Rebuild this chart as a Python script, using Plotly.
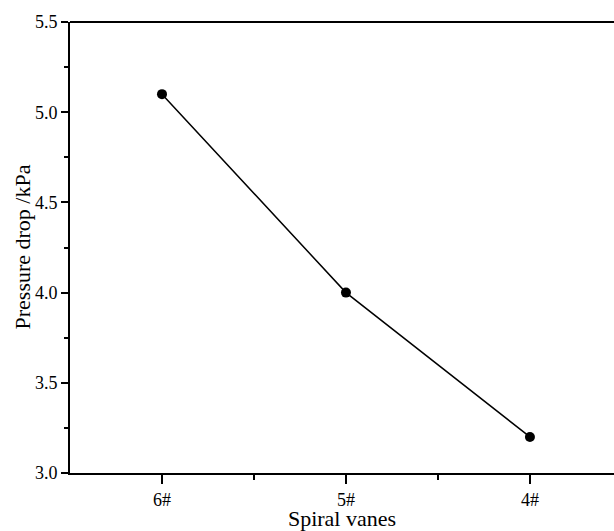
import plotly.graph_objects as go

categories = ["6#", "5#", "4#"]
pressure_drop = [5.1, 4.0, 3.2]
y_ticks = [3.0, 3.5, 4.0, 4.5, 5.0, 5.5]
y_tick_labels = ["3.0", "3.5", "4.0", "4.5", "5.0", "5.5"]

xpos = list(range(len(categories)))

fig = go.Figure()
fig.add_trace(go.Scatter(
    x=xpos, y=pressure_drop, mode="lines+markers",
    line=dict(color="black", width=1.5),
    marker=dict(color="black", size=10),
    showlegend=False,
))

font_family = "Times New Roman, Liberation Serif, serif"
fig.update_layout(
    width=614, height=531,
    margin=dict(l=70, r=0, t=22, b=58, autoexpand=False),
    paper_bgcolor="white", plot_bgcolor="white",
    font=dict(family=font_family, color="black"),
)
fig.update_xaxes(
    range=[-0.5, 2.457],
    tickvals=xpos, ticktext=categories,
    ticks="outside", ticklen=9, tickwidth=1.5, tickcolor="black",
    minor=dict(tickvals=[0.5, 1.5], ticks="outside", ticklen=5, tickwidth=1.5, tickcolor="black"),
    showline=True, linecolor="black", linewidth=2, mirror=False,
    showgrid=False, zeroline=False, automargin=False,
    tickfont=dict(size=18, family=font_family, color="black"),
    title=dict(text="Spiral vanes", font=dict(size=22, family=font_family, color="black"), standoff=2),
)
fig.update_yaxes(
    range=[3.0, 5.5],
    tickvals=y_ticks, ticktext=y_tick_labels,
    ticks="outside", ticklen=7, tickwidth=1.5, tickcolor="black",
    minor=dict(tickvals=[3.25, 3.75, 4.25, 4.75, 5.25], ticks="outside", ticklen=4, tickwidth=1.5, tickcolor="black"),
    showline=True, linecolor="black", linewidth=2,
    showgrid=False, zeroline=False, automargin=False,
    tickfont=dict(size=18, family=font_family, color="black"),
)
# top frame line
fig.add_shape(type="line", xref="paper", yref="paper", x0=0, x1=1, y0=1, y1=1,
              line=dict(color="black", width=2))
fig.add_annotation(
    text="Pressure drop /kPa", textangle=-90,
    xref="paper", yref="paper", x=0, y=0.5,
    xanchor="center", yanchor="middle", xshift=-48, showarrow=False,
    font=dict(size=22, family=font_family, color="black"),
)

fig.write_html(
    "out.html",
    config={"displayModeBar": False},
    post_script="document.body.style.margin='0';document.body.style.overflow='hidden';",
)
